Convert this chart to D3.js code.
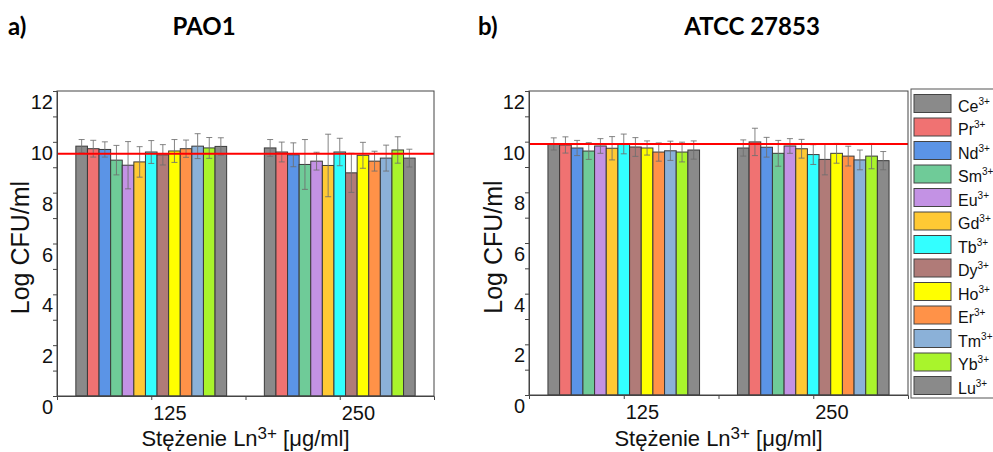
<!DOCTYPE html>
<html>
<head>
<meta charset="utf-8">
<script src="https://cdn.jsdelivr.net/npm/d3@7"></script>
<style>
  html, body { margin: 0; padding: 0; background: #fff; }
  svg { display: block; }
  .tick-label { font-family: "Liberation Sans", Arial, sans-serif; font-size: 20px; fill: #111; }
  .axis-title { font-family: "Liberation Sans", Arial, sans-serif; fill: #111; }
  .panel-title { font-family: Lato, "Open Sans", sans-serif; font-weight: 700; font-size: 24px; fill: #000; }
  .legend-text { font-family: "Liberation Sans", Arial, sans-serif; font-size: 16px; fill: #111; }
</style>
</head>
<body>
<svg id="chart" width="993" height="452"></svg>
<script>
// Lanthanide ions, one bar per ion in each concentration group
const ions = ["Ce", "Pr", "Nd", "Sm", "Eu", "Gd", "Tb", "Dy", "Ho", "Er", "Tm", "Yb", "Lu"];
const ionColors = ["#8a8a8a", "#f07272", "#5b94e6", "#6fcb98", "#c392e4", "#ffc934", "#33ffff",
                   "#b07b78", "#ffff00", "#ff9248", "#8bb1d8", "#a9f42c", "#8a8a8a"];
const concentrations = [125, 250];
const xTickValues = [125, 250];
const yTickValues = [0, 2, 4, 6, 8, 10, 12];

// PAO1 — mean log CFU/ml and standard deviation
const pao1At125 = [9.83, 9.73, 9.70, 9.28, 9.08, 9.21, 9.60, 9.49, 9.64, 9.73, 9.83, 9.76, 9.82];
const pao1Err125 = [0.26, 0.33, 0.30, 0.58, 0.93, 0.60, 0.45, 0.40, 0.45, 0.34, 0.49, 0.41, 0.34];
const pao1At250 = [9.76, 9.60, 9.49, 9.11, 9.24, 9.07, 9.60, 8.78, 9.47, 9.24, 9.36, 9.68, 9.36];
const pao1Err250 = [0.33, 0.39, 0.47, 0.98, 0.35, 1.23, 0.54, 0.77, 0.51, 0.39, 0.51, 0.52, 0.35];
const pao1Control = 9.53;

// ATCC 27853 — mean log CFU/ml and standard deviation
const atccAt125 = [9.91, 9.87, 9.75, 9.63, 9.83, 9.74, 9.91, 9.79, 9.75, 9.59, 9.64, 9.59, 9.67];
const atccErr125 = [0.24, 0.32, 0.30, 0.33, 0.29, 0.46, 0.39, 0.37, 0.28, 0.36, 0.38, 0.39, 0.36];
const atccAt250 = [9.75, 9.99, 9.78, 9.54, 9.83, 9.72, 9.49, 9.30, 9.54, 9.43, 9.28, 9.43, 9.25];
const atccErr250 = [0.32, 0.54, 0.39, 0.51, 0.29, 0.37, 0.39, 0.61, 0.39, 0.39, 0.39, 0.50, 0.36];
const atccControl = 9.91;

const svg = d3.select("#chart");

function drawPanel(opts) {
  const { left, right, top, bottom, values, errors, control, letter, name, titleX, yTitleX } = opts;
  const g = svg.append("g");

  const x = d3.scaleLinear().domain([62.5, 312.5]).range([left, right]);
  const y = d3.scaleLinear().domain([0, 12]).range([bottom, top]);
  const barW = 100 / ions.length;

  // bars
  concentrations.forEach((c, ci) => {
    const rows = ions.map((ion, i) => ({
      ion, color: ionColors[i], v: values[ci][i], e: errors[ci][i],
      x0: c - 50 + i * barW
    }));
    g.selectAll(null).data(rows).enter().append("rect")
      .attr("x", d => x(d.x0))
      .attr("y", d => y(d.v))
      .attr("width", d => x(d.x0 + barW) - x(d.x0))
      .attr("height", d => y(0) - y(d.v))
      .attr("fill", d => d.color)
      .attr("stroke", "#3a3a3a")
      .attr("stroke-width", 1);

    // error bars
    const eg = g.selectAll(null).data(rows).enter().append("g")
      .attr("stroke", "#6e6e6e").attr("stroke-opacity", 0.85).attr("stroke-width", 1);
    eg.append("line")
      .attr("x1", d => x(d.x0 + barW / 2)).attr("x2", d => x(d.x0 + barW / 2))
      .attr("y1", d => y(d.v + d.e)).attr("y2", d => y(d.v - d.e));
    eg.append("line")
      .attr("x1", d => x(d.x0 + barW / 2) - 3).attr("x2", d => x(d.x0 + barW / 2) + 3)
      .attr("y1", d => y(d.v + d.e)).attr("y2", d => y(d.v + d.e));
    eg.append("line")
      .attr("x1", d => x(d.x0 + barW / 2) - 3).attr("x2", d => x(d.x0 + barW / 2) + 3)
      .attr("y1", d => y(d.v - d.e)).attr("y2", d => y(d.v - d.e));
  });

  // control level
  g.append("line")
    .attr("x1", left).attr("x2", right)
    .attr("y1", y(control)).attr("y2", y(control))
    .attr("stroke", "#ff0000").attr("stroke-width", 2);

  // frame
  g.append("rect")
    .attr("x", left).attr("y", top)
    .attr("width", right - left).attr("height", bottom - top)
    .attr("fill", "none").attr("stroke", "#444").attr("stroke-width", 1);

  // y ticks (every unit, outward)
  const yAxis = d3.axisLeft(y).tickValues(d3.range(0, 13)).tickSize(4).tickFormat("");
  const ya = g.append("g").attr("transform", `translate(${left},0)`).call(yAxis);
  ya.select(".domain").attr("stroke", "#444");
  ya.selectAll(".tick line").attr("stroke", "#444");
  g.selectAll(null).data(yTickValues).enter().append("text")
    .attr("class", "tick-label")
    .attr("x", left - 4).attr("y", d => y(d) + 18)
    .attr("text-anchor", "end")
    .text(d => d);

  // x ticks
  const xAxis = d3.axisBottom(x).tickValues([125, 187.5, 250]).tickSize(4).tickFormat("");
  const xa = g.append("g").attr("transform", `translate(0,${bottom})`).call(xAxis);
  xa.select(".domain").attr("stroke", "#444");
  xa.selectAll(".tick line").attr("stroke", "#444");
  g.selectAll(null).data(xTickValues).enter().append("text")
    .attr("class", "tick-label")
    .attr("x", d => x(d) + 2).attr("y", bottom + 24)
    .text(d => d);

  // axis titles
  g.append("text").attr("class", "axis-title")
    .attr("transform", `translate(${yTitleX},${(top + bottom) / 2 + 4}) rotate(-90)`)
    .attr("text-anchor", "middle").attr("dominant-baseline", "middle")
    .style("font-size", "25px")
    .text("Log CFU/ml");

  const xt = g.append("text").attr("class", "axis-title")
    .attr("x", (left + right) / 2).attr("y", 446)
    .attr("text-anchor", "middle").style("font-size", "22px");
  xt.append("tspan").text("Stężenie Ln");
  xt.append("tspan").attr("dy", -7).style("font-size", "17px").text("3+");
  xt.append("tspan").attr("dy", 7).text(" [μg/ml]");

  // panel labels
  svg.append("text").attr("class", "panel-title").attr("x", letter.x).attr("y", 35).text(letter.text);
  svg.append("text").attr("class", "panel-title").attr("x", titleX).attr("y", 35)
    .attr("text-anchor", "middle").text(name);
}

drawPanel({
  left: 57, right: 434, top: 91, bottom: 396,
  values: [pao1At125, pao1At250], errors: [pao1Err125, pao1Err250], control: pao1Control,
  letter: { x: 8, text: "a)" }, name: "PAO1", titleX: 204, yTitleX: 22
});
drawPanel({
  left: 529, right: 908, top: 91, bottom: 395,
  values: [atccAt125, atccAt250], errors: [atccErr125, atccErr250], control: atccControl,
  letter: { x: 478, text: "b)" }, name: "ATCC 27853", titleX: 752, yTitleX: 495
});

// legend
const legend = svg.append("g");
legend.append("rect")
  .attr("x", 911).attr("y", 89).attr("width", 100).attr("height", 309)
  .attr("fill", "#fff").attr("stroke", "#555").attr("stroke-width", 1);
const item = legend.selectAll(null).data(ions).enter().append("g")
  .attr("transform", (d, i) => `translate(914,${94.5 + i * 23.5})`);
item.append("rect")
  .attr("width", 37).attr("height", 18)
  .attr("fill", (d, i) => ionColors[i])
  .attr("stroke", "#444").attr("stroke-width", 1);
const lt = item.append("text").attr("class", "legend-text").attr("x", 44).attr("y", 17);
lt.append("tspan").text(d => d);
lt.append("tspan").attr("dy", -7).style("font-size", "10px").text("3+");
</script>
</body>
</html>
